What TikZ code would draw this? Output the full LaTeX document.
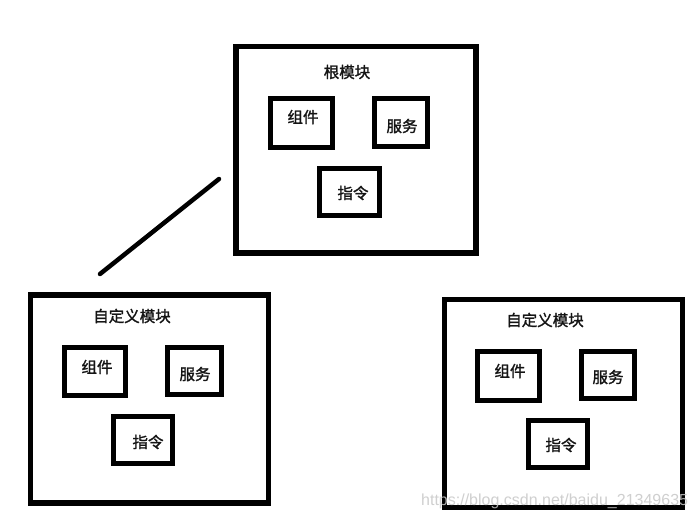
\documentclass[tikz,border=0pt]{standalone}
\usepackage{fontspec}
\newfontfamily\cjk{Noto Sans CJK SC}[FakeBold=1.6]
\setsansfont{Liberation Sans}
\begin{document}
\begin{tikzpicture}[x=1pt,y=-1pt,
  outerbox/.style={draw=black,line width=5.5pt,rectangle,inner sep=0pt},
  innerbox/.style={draw=black,line width=5pt,rectangle,inner sep=0pt},
  lbl/.style={font=\cjk\fontsize{15.5}{17}\selectfont,inner sep=0pt,text=black!92},
  link/.style={line width=4.5pt,line cap=round}]
\useasboundingbox (0,0) rectangle (696,520);
\fill[white] (0,0) rectangle (696,520);
\newcommand{\mybox}[6]{%
  \node[#6,minimum width={#4-#2},minimum height={#5-#3}] (#1) at ({(#2+#4)/2},{(#3+#5)/2}) {};}
% root module
\mybox{root}{236}{46.5}{476}{253}{outerbox}
\node[lbl] (root-t) at (347,72) {根模块};
\mybox{r1}{270}{98.5}{332}{147.5}{innerbox}
\node[lbl] (r1-t) at (303,117) {组件};
\mybox{r2}{374.5}{98.5}{427}{146.5}{innerbox}
\node[lbl] (r2-t) at (402,126) {服务};
\mybox{r3}{319.5}{168.5}{379.5}{215.5}{innerbox}
\node[lbl] (r3-t) at (353,193) {指令};
% left custom module
\mybox{left}{30.5}{295}{268.5}{503}{outerbox}
\node[lbl] (left-t) at (132,316) {自定义模块};
\mybox{l1}{64.5}{347}{125.5}{395.5}{innerbox}
\node[lbl] (l1-t) at (97,367) {组件};
\mybox{l2}{167.5}{347.5}{221.5}{394.5}{innerbox}
\node[lbl] (l2-t) at (195,374) {服务};
\mybox{l3}{113.5}{416.5}{172.5}{463.5}{innerbox}
\node[lbl] (l3-t) at (148,442) {指令};
% right custom module
\mybox{right}{444.5}{299.5}{682.5}{507.5}{outerbox}
\node[lbl] (right-t) at (545,320) {自定义模块};
\mybox{g1}{477.5}{351.5}{539}{400}{innerbox}
\node[lbl] (g1-t) at (510,371) {组件};
\mybox{g2}{581.5}{351.5}{634.5}{398.5}{innerbox}
\node[lbl] (g2-t) at (608,377) {服务};
\mybox{g3}{528.5}{420.5}{587}{467.5}{innerbox}
\node[lbl] (g3-t) at (561,445) {指令};
% connector
\coordinate (c-a) at (100,274);
\coordinate (c-b) at (219,179);
\draw[link] (c-a) -- (c-b);
% watermark
\node[font=\sffamily\fontsize{16}{18}\selectfont,text=black!22,text opacity=0.85,inner sep=0pt,anchor=west] (wm) at (421,501) {https://blog.csdn.net/baidu\_21349635};
\end{tikzpicture}
\end{document}
